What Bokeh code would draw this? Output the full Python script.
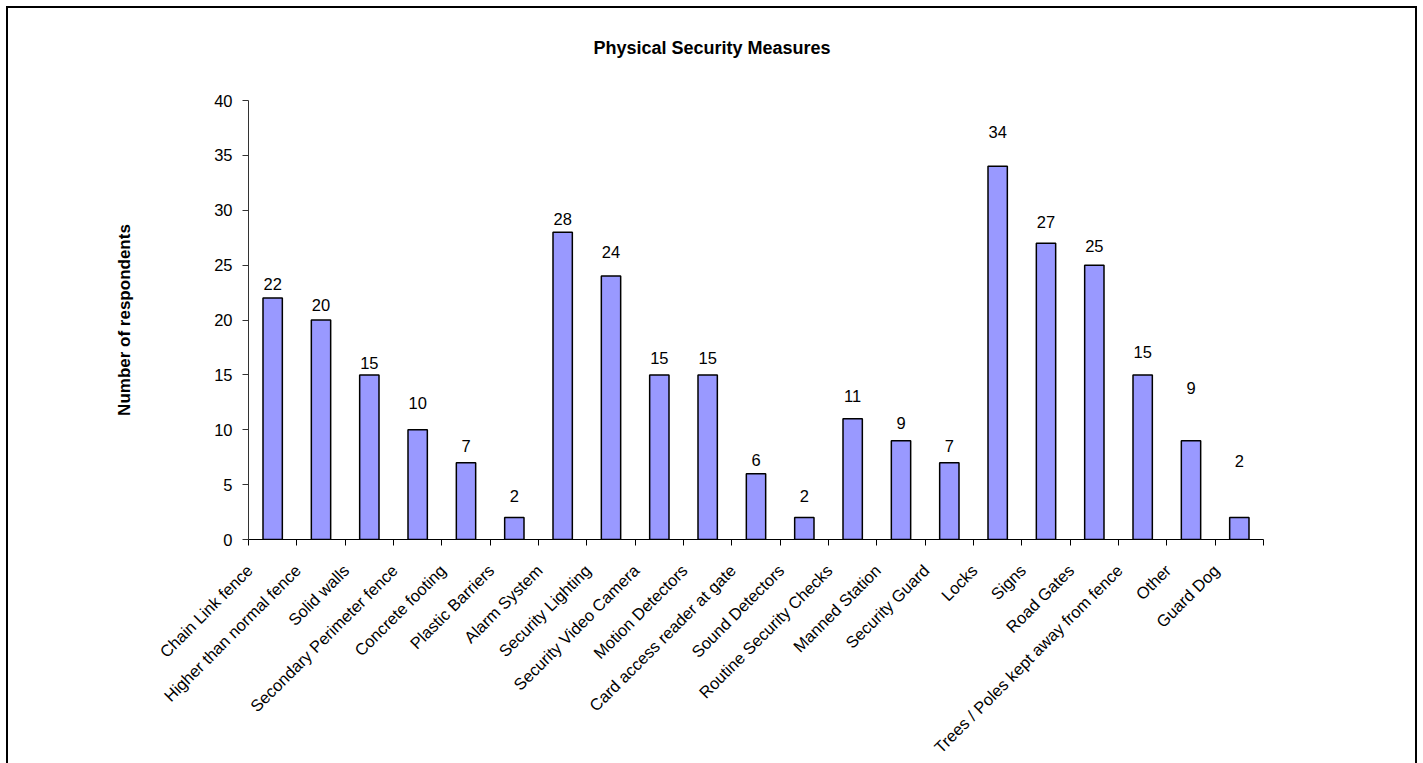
import math
from bokeh.plotting import figure
from bokeh.models import (ColumnDataSource, FactorRange, Range1d, FixedTicker,
                          LinearAxis, Title, CustomJSTickFormatter)
from bokeh.core.properties import value
from bokeh.embed import file_html
from bokeh.resources import INLINE

# Survey results: physical security measures in use
measures = [
    "Chain Link fence", "Higher than normal fence", "Solid walls",
    "Secondary Perimeter fence", "Concrete footing", "Plastic Barriers",
    "Alarm System", "Security Lighting", "Security Video Camera",
    "Motion Detectors", "Card access reader at gate", "Sound Detectors",
    "Routine Security Checks", "Manned Station", "Security Guard", "Locks",
    "Signs", "Road Gates", "Trees / Poles kept away from fence", "Other",
    "Guard Dog",
]
respondents = [22, 20, 15, 10, 7, 2, 28, 24, 15, 15, 6, 2, 11, 9, 7, 34,
               27, 25, 15, 9, 2]
y_ticks = [0, 5, 10, 15, 20, 25, 30, 35, 40]

# how far (px) each value label sits above its bar
label_lift = [14, 15, 12, 27, 17, 22, 13, 24, 17, 17, 14, 22, 23, 18, 17,
              34, 21, 19, 23, 53, 57]

FONT = "Liberation Sans"
TXT = "16.5px"

src = ColumnDataSource(data=dict(
    measure=measures,
    count=respondents,
    text=[str(v) for v in respondents],
    lift=[-d for d in label_lift],
))

p = figure(
    width=1407, height=755,
    x_range=FactorRange(factors=measures),
    y_range=Range1d(0, 40),
    x_axis_location=None, y_axis_location=None, title_location=None,
    output_backend="svg", toolbar_location=None,
    min_border_left=240, min_border_right=156,
    min_border_top=92, min_border_bottom=222,
)
# chart-area frame (open at the bottom edge of the page)
p.margin = (6, 0, 0, 6)
p.styles = {"border-left": "2px solid black", "border-top": "2px solid black",
            "border-right": "2px solid black", "box-sizing": "content-box"}
p.grid.visible = False
p.outline_line_color = None
p.background_fill_color = "white"
p.border_fill_color = "white"

p.vbar(x="measure", top="count", width=0.4, source=src,
       fill_color="#9999FF", line_color="black", line_width=1.5)

p.text(x="measure", y="count", text="text", source=src, y_offset="lift",
       text_align="center", text_baseline="middle",
       text_font=value(FONT), text_font_size=TXT, text_color="black")

# y axis
yax = LinearAxis(ticker=FixedTicker(ticks=y_ticks))
yax.axis_line_color = "#333333"
yax.major_tick_line_color = "#333333"
yax.major_tick_out = 6
yax.major_tick_in = 0
yax.minor_tick_line_color = None
yax.major_label_text_font = FONT
yax.major_label_text_font_size = TXT
yax.major_label_text_color = "black"
yax.major_label_standoff = 10
yax.axis_label = "Number of respondents"
yax.axis_label_text_font = FONT
yax.axis_label_text_font_size = "17px"
yax.axis_label_text_font_style = "bold"
yax.axis_label_text_color = "black"
yax.axis_label_standoff = 77
p.add_layout(yax, "left")

# x axis: tick marks between categories (synthetic coordinates 0..n)
tick_ax = LinearAxis(ticker=FixedTicker(ticks=list(range(len(measures) + 1))))
tick_ax.axis_line_color = "black"
tick_ax.major_tick_line_color = "black"
tick_ax.major_tick_out = 6
tick_ax.major_tick_in = 0
tick_ax.minor_tick_line_color = None
tick_ax.major_label_text_color = None
tick_ax.major_label_text_font_size = "1px"
tick_ax.major_label_standoff = 0
p.add_layout(tick_ax, "below")

# x axis: slanted category names, anchored a little left of each bar
name_ax = LinearAxis(
    ticker=FixedTicker(ticks=[i + 0.02 for i in range(len(measures))]),
    formatter=CustomJSTickFormatter(args=dict(names=measures),
                                    code="return names[Math.round(tick)]"),
)
name_ax.axis_line_color = None
name_ax.major_tick_line_color = None
name_ax.minor_tick_line_color = None
name_ax.major_label_orientation = math.pi / 4
name_ax.major_label_text_font = FONT
name_ax.major_label_text_font_size = TXT
name_ax.major_label_text_color = "black"
name_ax.major_label_standoff = 16
p.add_layout(name_ax, "below")

# blank band between the plot area and the chart title (nothing drawn)
gap_ax = LinearAxis(ticker=FixedTicker(ticks=[0]))
gap_ax.axis_line_color = None
gap_ax.major_tick_line_color = None
gap_ax.minor_tick_line_color = None
gap_ax.major_tick_out = 36
gap_ax.major_tick_in = 0
gap_ax.major_label_text_color = None
gap_ax.major_label_text_font_size = "1px"
gap_ax.major_label_standoff = 0
p.add_layout(gap_ax, "above")

# chart title
p.add_layout(Title(text="Physical Security Measures", text_font=FONT,
                   text_font_size="18px", text_font_style="bold",
                   text_color="black", align="left", offset=345,
                   vertical_align="top", standoff=10), "above")

open("out.html", "w").write(file_html(p, INLINE))
